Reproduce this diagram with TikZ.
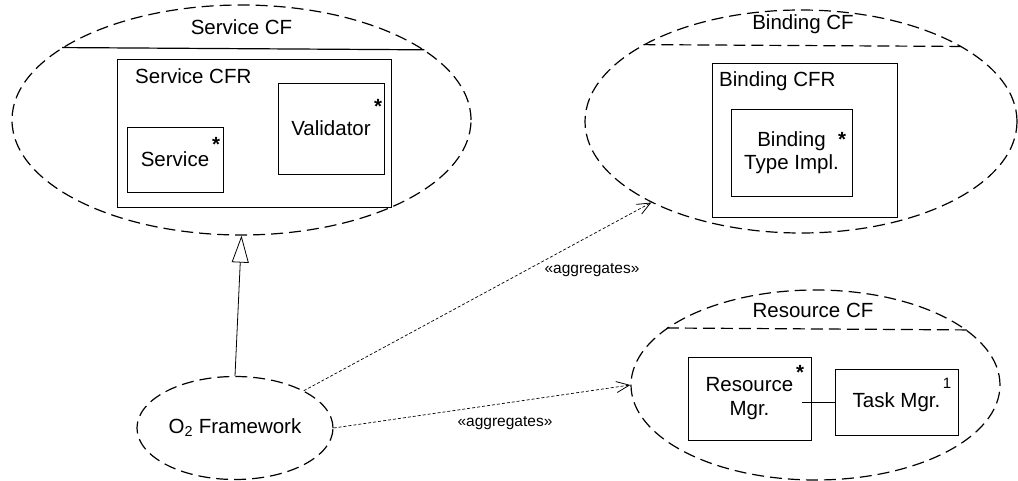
\documentclass[tikz,border=0pt]{standalone}
\usepackage{fontspec}
\setmainfont{Liberation Sans}
\usetikzlibrary{shapes.geometric,arrows.meta}

\begin{document}
\begin{tikzpicture}[x=1pt,y=-1pt,
        font=\fontsize{20.5}{23.5}\selectfont,
        cf/.style={ellipse,draw,line width=1.2pt,dash pattern=on 12pt off 6pt,inner sep=0pt},
        part/.style={rectangle,draw,line width=0.8pt,inner sep=0pt,align=center},
        mult/.style={anchor=base,inner sep=0pt},
        stereo/.style={font=\fontsize{15.5}{18}\selectfont,inner sep=0pt},
        agg/.style={line width=0.7pt,dash pattern=on 3pt off 2pt,-{Straight Barb[length=13pt,width=11pt,line width=0.8pt]}}]
        \useasboundingbox (0,0) rectangle (1018,481);
        % component frameworks
        \node[cf,minimum width=459pt,minimum height=230pt] (scf) at (241.5,120) {};
        \node[cf,minimum width=432pt,minimum height=223pt] (bcf) at (801,121.5) {};
        \node[cf,minimum width=369pt,minimum height=190pt] (rcf) at (815.5,385) {};
        \node[cf,minimum width=196pt,minimum height=103pt] (o2) at (235,428) {O\textsubscript{2} Framework};
        \node (scft) at (241.5,27) {Service CF};
        \node (bcft) at (803,24) {Binding CF};
        \node (rcft) at (813,310) {Resource CF};
        \draw[line width=1.2pt] (scf.158.5) -- (scf.21.5);
        \draw[line width=1.2pt,dash pattern=on 12pt off 6pt] (bcf.154.6) -- (bcf.25.4);
        \draw[line width=1.2pt,dash pattern=on 12pt off 6pt] (rcf.159.4) -- (rcf.20.6);
        % Service CF
        \node[part,minimum width=274pt,minimum height=148pt] (scfr) at (254,133) {};
        \node[anchor=west,inner sep=0pt] (scfrt) at (135,76) {Service CFR};
        \node[part,minimum width=96pt,minimum height=65pt] (svc) at (175,159.5) {Service};
        \node[part,minimum width=106pt,minimum height=91pt] (val) at (331,128.5) {Validator};
        \node[mult] at (216,152) {\bfseries *};
        \node[mult] at (378,114) {\bfseries *};
        % Binding CF
        \node[part,minimum width=185pt,minimum height=154pt] (bcfr) at (804.5,140) {};
        \node[anchor=west,inner sep=0pt] (bcfrt) at (719,81) {Binding CFR};
        \node[part,minimum width=121pt,minimum height=87pt] (bti) at (791.5,152.5) {Binding\\Type Impl.};
        \node[mult] at (842,147) {\bfseries *};
        % Resource CF
        \node[part,minimum width=123pt,minimum height=83pt] (rm) at (749.5,398.5) {Resource\\Mgr.};
        \node[part,minimum width=123pt,minimum height=66pt] (tm) at (896.5,402) {Task Mgr.};
        \node[mult] at (800,379) {\bfseries *};
        \node[mult,font=\fontsize{15}{18}\selectfont] at (947,388.5) {1};
        \draw[line width=0.8pt] ([xshift=-9pt]rm.east |- tm.west) -- (tm.west);
        % relations
        \draw[line width=0.8pt,-{Triangle[open,length=27pt,width=17pt]}] (o2.north) -- (scf.south);
        \draw[agg] (o2) -- (bcf);
        \draw[agg] (o2.east) -- (rcf.west);
        \node[stereo] at (592,270) {«aggregates»};
        \node[stereo] at (505,423) {«aggregates»};
\end{tikzpicture}
\end{document}
